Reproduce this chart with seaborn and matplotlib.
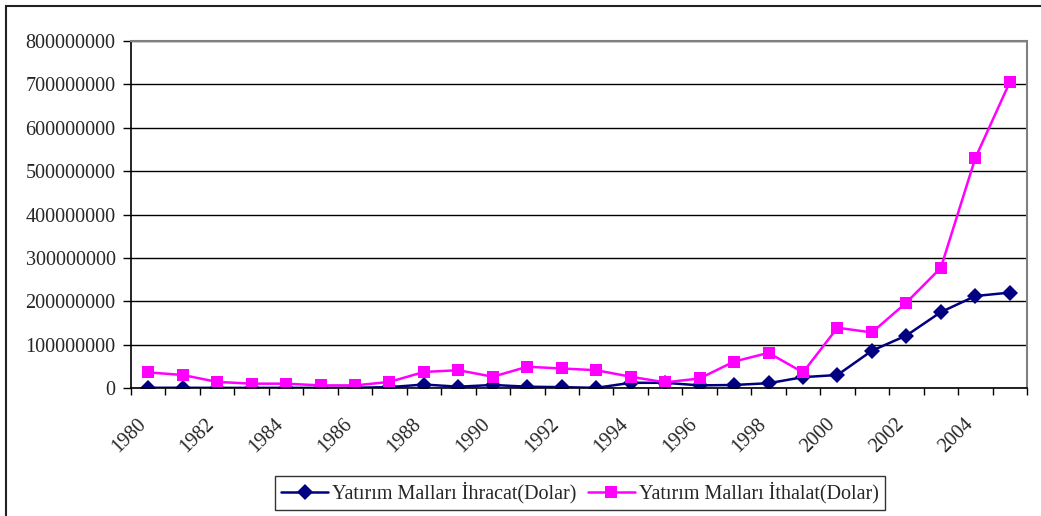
import numpy as np
import pandas as pd
import seaborn as sns
import matplotlib.pyplot as plt
from matplotlib.patches import Rectangle
from matplotlib.transforms import ScaledTranslation

years = list(range(1980, 2006))
ihracat = [0.5e6, 0.5e6, 0.3e6, 0.3e6, 0.3e6, 0.3e6, 0.5e6, 2e6, 8e6, 3e6,
           7e6, 3e6, 2e6, 0.3e6, 12e6, 12e6, 6e6, 7e6, 11e6, 25e6,
           30e6, 86e6, 121e6, 175e6, 212e6, 220e6]
ithalat = [36e6, 30e6, 14e6, 10e6, 10e6, 6e6, 6e6, 14e6, 37e6, 41e6,
           26e6, 49e6, 45e6, 41e6, 26e6, 13e6, 22e6, 61e6, 81e6, 36e6,
           139e6, 128e6, 197e6, 277e6, 530e6, 705e6]
labels = ["Yatırım Malları İhracat(Dolar)", "Yatırım Malları İthalat(Dolar)"]

df = pd.DataFrame({"Yil": years * 2,
                   "Deger": ihracat + ithalat,
                   "Seri": [labels[0]] * len(years) + [labels[1]] * len(years)})

sns.set_style("white")
plt.rcParams['font.family'] = ['Liberation Serif', 'DejaVu Serif']

fig = plt.figure(figsize=(10.41, 5.16), dpi=100)
ax = fig.add_axes([131/1041, 1-388/516, (1027-131)/1041, (388-41)/516])

sns.lineplot(data=df, x="Yil", y="Deger", hue="Seri", style="Seri",
             palette={labels[0]: "#000080", labels[1]: "#FF00FF"},
             markers={labels[0]: "D", labels[1]: "s"},
             dashes=False, markersize=8, markeredgewidth=0, linewidth=1.8,
             ax=ax)

ax.set_xlim(1979.5, 2005.5)
ax.set_ylim(0, 800e6)
ax.set_yticks(np.arange(0, 800e6 + 1, 100e6))
ax.ticklabel_format(axis='y', style='plain', useOffset=False)
ax.yaxis.grid(True, color='black', linewidth=1)
ax.set_axisbelow(True)

ax.set_xticks(np.arange(1979.5, 2006, 1))
ax.set_xticklabels([])
ax.set_xticks(years[::2], minor=True)
ax.set_xticklabels([str(y) for y in years[::2]], minor=True, rotation=45,
                   ha='right', rotation_mode='anchor')
ax.tick_params(axis='x', which='major', direction='out', length=5, width=1,
               bottom=True, color='black')
ax.tick_params(axis='x', which='minor', length=0, pad=9, labelsize=14.5)
ax.tick_params(axis='y', direction='out', length=6, width=1, left=True,
               color='black', labelsize=14.5, pad=5)
# shift the year labels down-left like the original
shift = ScaledTranslation(-0.12, -0.14, fig.dpi_scale_trans)
for lab in ax.get_xticklabels(minor=True):
    lab.set_transform(lab.get_transform() + shift)

ax.set_xlabel("")
ax.set_ylabel("")
for s in ['left', 'bottom']:
    ax.spines[s].set_color('black')
    ax.spines[s].set_linewidth(1.2)
for s in ['top', 'right']:
    ax.spines[s].set_color('#808080')
    ax.spines[s].set_linewidth(1.5)

handles, labs = ax.get_legend_handles_labels()
ax.legend_.remove()
leg = fig.legend(handles, labs, loc='center', bbox_to_anchor=(580/1041, 1-493/516),
                 ncol=2, frameon=True, fancybox=False, fontsize=14.5,
                 handlelength=2.3, columnspacing=0.6, handletextpad=0.2,
                 borderpad=0.3, edgecolor='black')
leg.get_frame().set_linewidth(1)

fig.patches.append(Rectangle((6/1041, -0.1), 1.2, 1.1 - 6/516, transform=fig.transFigure,
                             fill=False, edgecolor='#222222', linewidth=1.5))

fig.savefig("out.png", dpi=100)
